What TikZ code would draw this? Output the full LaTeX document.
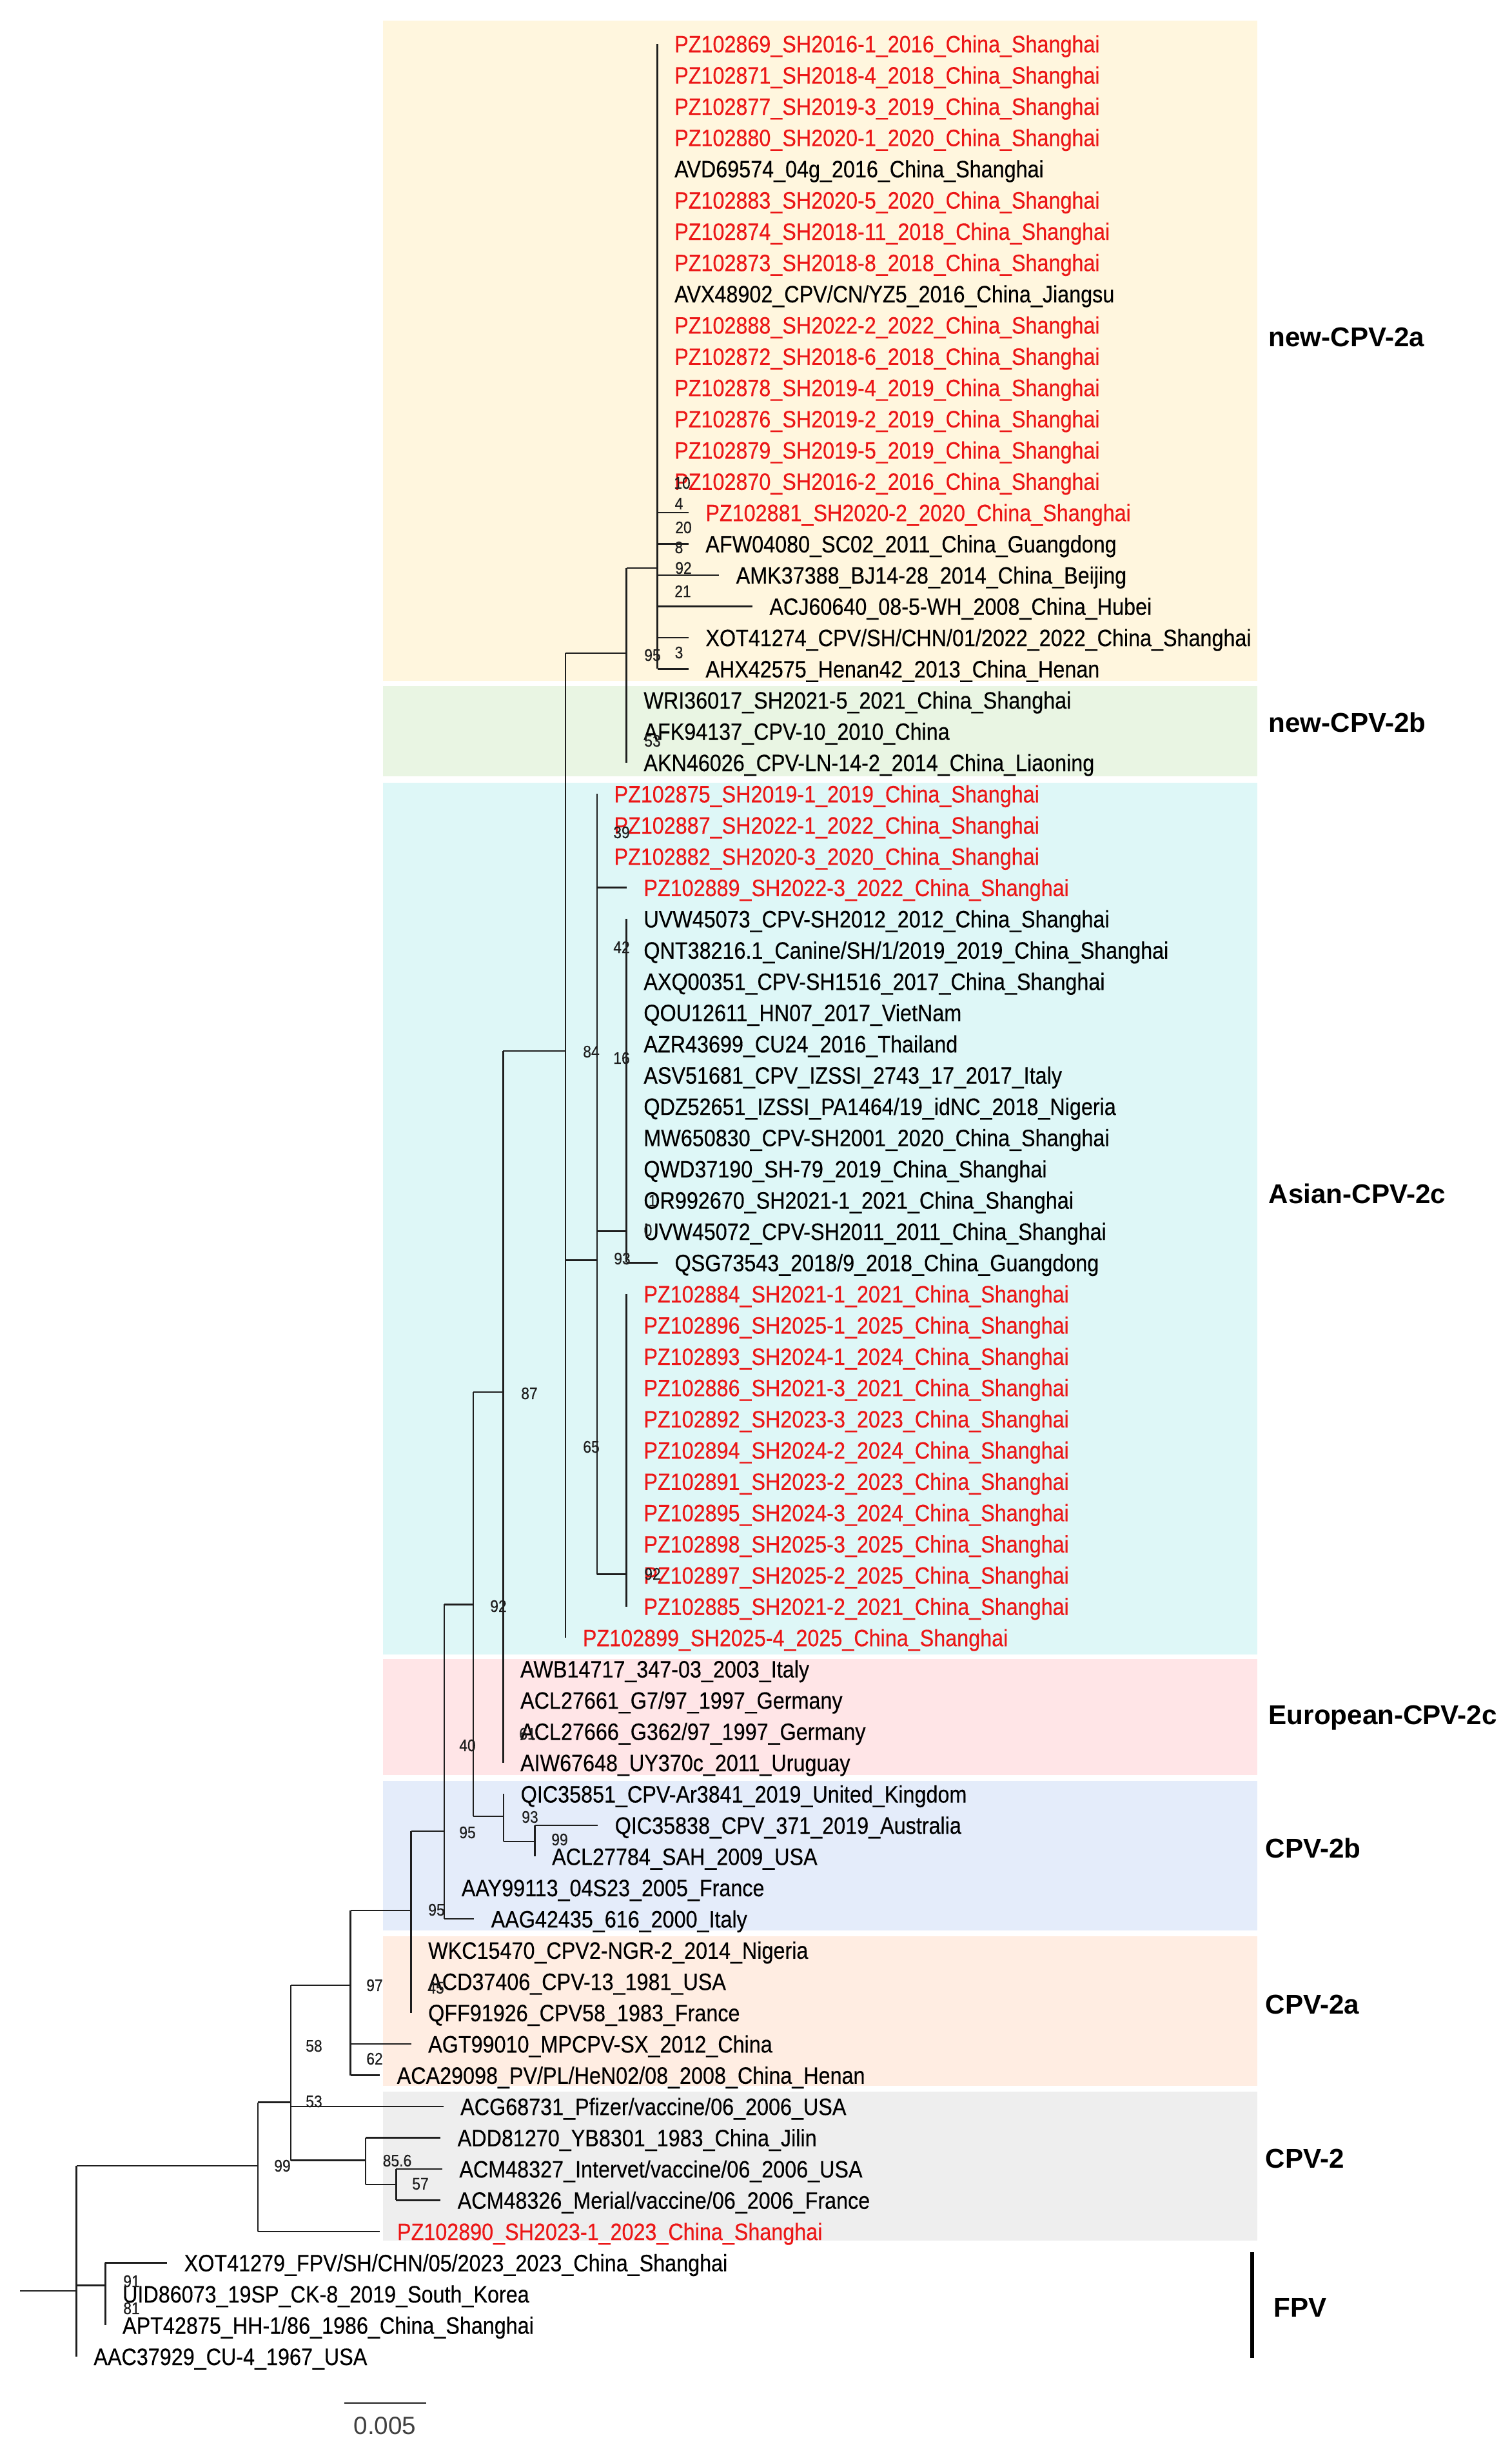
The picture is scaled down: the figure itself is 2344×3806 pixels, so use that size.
\documentclass[tikz,border=0pt]{standalone}
\usepackage{fontspec}
\setmainfont{Liberation Sans}
\newfontfamily\leaffont[FakeStretch=0.88,FakeBold=0.35]{Liberation Sans}
\usetikzlibrary{calc}

\definecolor{tipred}{RGB}{236,22,22}
\definecolor{brn}{RGB}{30,30,30}
\definecolor{bgnewa}{RGB}{255,246,222}
\definecolor{bgnewb}{RGB}{233,245,227}
\definecolor{bgasia}{RGB}{222,247,247}
\definecolor{bgeuro}{RGB}{255,229,231}
\definecolor{bgcpvb}{RGB}{228,236,250}
\definecolor{bgcpva}{RGB}{255,237,226}
\definecolor{bgcpv}{RGB}{238,238,238}

\tikzset{
  branch/.style={draw=brn,line width=0.7pt},
  leaf/.style={anchor=west,inner xsep=2.6mm,inner ysep=0pt,text height=7.5pt,text depth=0pt,
    font=\leaffont\fontsize{10.45}{12}\selectfont},
  boot/.style={inner sep=0pt,text=brn,font=\leaffont\fontsize{7.4}{8}\selectfont},
  clade/.style={anchor=west,inner sep=0pt,text height=8.6pt,text depth=0pt,
    font=\bfseries\fontsize{12}{14}\selectfont},
  declare function={rowy(\n)=68+48.47*(\n-1);}
}

\begin{document}
\begin{tikzpicture}[x=0.1mm,y=-0.1mm]
\useasboundingbox (0,0) rectangle (2344,3806);

\foreach \c/\ya/\yb in {bgnewa/32/1056,bgnewb/1064/1204,bgasia/1214/2566,bgeuro/2573/2753,
  bgcpvb/2762/2994,bgcpva/3003/3235,bgcpv/3244/3475}
  \fill[\c] (594,\ya) rectangle (1950,\yb);

% internal nodes
\coordinate (nA) at (1019.5,881);
\coordinate (nB) at (971.7,1013);
\coordinate (nQ) at (877.2,1630);
\coordinate (nAS) at (925.8,1954.6);
\coordinate (nAS1) at (971.7,1909.4);
\coordinate (nAS2) at (971.7,2441.5);
\coordinate (nP) at (780.4,2159);
\coordinate (nR) at (734.2,2488.4);
\coordinate (nS) at (781,2817);
\coordinate (nT) at (829.5,2855.8);
\coordinate (nU) at (689.2,2840);
\coordinate (nV) at (637.5,2963);
\coordinate (nW) at (543.5,3079);
\coordinate (nX) at (450.9,3260.5);
\coordinate (nY) at (567,3350.6);
\coordinate (nAA) at (614.3,3388);
\coordinate (nZ) at (400,3359.2);
\coordinate (nBB) at (163.4,3544.6);
\coordinate (nRoot) at (118.7,3552.7);
\coordinate (stub) at (31.3,3552.7);

\foreach \k/\p/\x/\c/\t in {
  1/nA/1019.5/tipred/{PZ102869\_SH2016-1\_2016\_China\_Shanghai},
  2/nA/1019.5/tipred/{PZ102871\_SH2018-4\_2018\_China\_Shanghai},
  3/nA/1019.5/tipred/{PZ102877\_SH2019-3\_2019\_China\_Shanghai},
  4/nA/1019.5/tipred/{PZ102880\_SH2020-1\_2020\_China\_Shanghai},
  5/nA/1019.5/black/{AVD69574\_04g\_2016\_China\_Shanghai},
  6/nA/1019.5/tipred/{PZ102883\_SH2020-5\_2020\_China\_Shanghai},
  7/nA/1019.5/tipred/{PZ102874\_SH2018-11\_2018\_China\_Shanghai},
  8/nA/1019.5/tipred/{PZ102873\_SH2018-8\_2018\_China\_Shanghai},
  9/nA/1019.5/black/{AVX48902\_CPV/CN/YZ5\_2016\_China\_Jiangsu},
  10/nA/1019.5/tipred/{PZ102888\_SH2022-2\_2022\_China\_Shanghai},
  11/nA/1019.5/tipred/{PZ102872\_SH2018-6\_2018\_China\_Shanghai},
  12/nA/1019.5/tipred/{PZ102878\_SH2019-4\_2019\_China\_Shanghai},
  13/nA/1019.5/tipred/{PZ102876\_SH2019-2\_2019\_China\_Shanghai},
  14/nA/1019.5/tipred/{PZ102879\_SH2019-5\_2019\_China\_Shanghai},
  15/nA/1019.5/tipred/{PZ102870\_SH2016-2\_2016\_China\_Shanghai},
  16/nA/1067.7/tipred/{PZ102881\_SH2020-2\_2020\_China\_Shanghai},
  17/nA/1067.7/black/{AFW04080\_SC02\_2011\_China\_Guangdong},
  18/nA/1115/black/{AMK37388\_BJ14-28\_2014\_China\_Beijing},
  19/nA/1166.7/black/{ACJ60640\_08-5-WH\_2008\_China\_Hubei},
  20/nA/1067.7/black/{XOT41274\_CPV/SH/CHN/01/2022\_2022\_China\_Shanghai},
  21/nA/1067.7/black/{AHX42575\_Henan42\_2013\_China\_Henan},
  22/nB/971.7/black/{WRI36017\_SH2021-5\_2021\_China\_Shanghai},
  23/nB/971.7/black/{AFK94137\_CPV-10\_2010\_China},
  24/nB/971.7/black/{AKN46026\_CPV-LN-14-2\_2014\_China\_Liaoning},
  25/nAS/925.8/tipred/{PZ102875\_SH2019-1\_2019\_China\_Shanghai},
  26/nAS/925.8/tipred/{PZ102887\_SH2022-1\_2022\_China\_Shanghai},
  27/nAS/925.8/tipred/{PZ102882\_SH2020-3\_2020\_China\_Shanghai},
  28/nAS/971.7/tipred/{PZ102889\_SH2022-3\_2022\_China\_Shanghai},
  29/nAS1/971.7/black/{UVW45073\_CPV-SH2012\_2012\_China\_Shanghai},
  30/nAS1/971.7/black/{QNT38216.1\_Canine/SH/1/2019\_2019\_China\_Shanghai},
  31/nAS1/971.7/black/{AXQ00351\_CPV-SH1516\_2017\_China\_Shanghai},
  32/nAS1/971.7/black/{QOU12611\_HN07\_2017\_VietNam},
  33/nAS1/971.7/black/{AZR43699\_CU24\_2016\_Thailand},
  34/nAS1/971.7/black/{ASV51681\_CPV\_IZSSI\_2743\_17\_2017\_Italy},
  35/nAS1/971.7/black/{QDZ52651\_IZSSI\_PA1464/19\_idNC\_2018\_Nigeria},
  36/nAS1/971.7/black/{MW650830\_CPV-SH2001\_2020\_China\_Shanghai},
  37/nAS1/971.7/black/{QWD37190\_SH-79\_2019\_China\_Shanghai},
  38/nAS1/971.7/black/{OR992670\_SH2021-1\_2021\_China\_Shanghai},
  39/nAS1/971.7/black/{UVW45072\_CPV-SH2011\_2011\_China\_Shanghai},
  40/nAS1/1019.9/black/{QSG73543\_2018/9\_2018\_China\_Guangdong},
  41/nAS2/971.7/tipred/{PZ102884\_SH2021-1\_2021\_China\_Shanghai},
  42/nAS2/971.7/tipred/{PZ102896\_SH2025-1\_2025\_China\_Shanghai},
  43/nAS2/971.7/tipred/{PZ102893\_SH2024-1\_2024\_China\_Shanghai},
  44/nAS2/971.7/tipred/{PZ102886\_SH2021-3\_2021\_China\_Shanghai},
  45/nAS2/971.7/tipred/{PZ102892\_SH2023-3\_2023\_China\_Shanghai},
  46/nAS2/971.7/tipred/{PZ102894\_SH2024-2\_2024\_China\_Shanghai},
  47/nAS2/971.7/tipred/{PZ102891\_SH2023-2\_2023\_China\_Shanghai},
  48/nAS2/971.7/tipred/{PZ102895\_SH2024-3\_2024\_China\_Shanghai},
  49/nAS2/971.7/tipred/{PZ102898\_SH2025-3\_2025\_China\_Shanghai},
  50/nAS2/971.7/tipred/{PZ102897\_SH2025-2\_2025\_China\_Shanghai},
  51/nAS2/971.7/tipred/{PZ102885\_SH2021-2\_2021\_China\_Shanghai},
  52/nQ/877.2/tipred/{PZ102899\_SH2025-4\_2025\_China\_Shanghai},
  53/nP/780.4/black/{AWB14717\_347-03\_2003\_Italy},
  54/nP/780.4/black/{ACL27661\_G7/97\_1997\_Germany},
  55/nP/780.4/black/{ACL27666\_G362/97\_1997\_Germany},
  56/nP/780.4/black/{AIW67648\_UY370c\_2011\_Uruguay},
  57/nS/781/black/{QIC35851\_CPV-Ar3841\_2019\_United\_Kingdom},
  58/nT/927/black/{QIC35838\_CPV\_371\_2019\_Australia},
  59/nT/829.5/black/{ACL27784\_SAH\_2009\_USA},
  60/nU/689.2/black/{AAY99113\_04S23\_2005\_France},
  61/nU/735/black/{AAG42435\_616\_2000\_Italy},
  62/nV/637.5/black/{WKC15470\_CPV2-NGR-2\_2014\_Nigeria},
  63/nV/637.5/black/{ACD37406\_CPV-13\_1981\_USA},
  64/nV/637.5/black/{QFF91926\_CPV58\_1983\_France},
  65/nW/637.5/black/{AGT99010\_MPCPV-SX\_2012\_China},
  66/nW/589/black/{ACA29098\_PV/PL/HeN02/08\_2008\_China\_Henan},
  67/nX/687.5/black/{ACG68731\_Pfizer/vaccine/06\_2006\_USA},
  68/nY/683/black/{ADD81270\_YB8301\_1983\_China\_Jilin},
  69/nAA/685.7/black/{ACM48327\_Intervet/vaccine/06\_2006\_USA},
  70/nAA/683/black/{ACM48326\_Merial/vaccine/06\_2006\_France},
  71/nZ/589.3/tipred/{PZ102890\_SH2023-1\_2023\_China\_Shanghai},
  72/nBB/259/black/{XOT41279\_FPV/SH/CHN/05/2023\_2023\_China\_Shanghai},
  73/nBB/163.4/black/{UID86073\_19SP\_CK-8\_2019\_South\_Korea},
  74/nBB/163.4/black/{APT42875\_HH-1/86\_1986\_China\_Shanghai},
  75/nRoot/118.7/black/{AAC37929\_CU-4\_1967\_USA}}{
  \node[leaf,text=\c] (t\k) at (\x,{rowy(\k)}) {\t};
  \draw[branch] (\p |- t\k.west) -- (t\k.west);
}

\foreach \m/\ta/\tb/\pa in {nA/t1/t21/nB,nB/nA/t24/nQ,nQ/nB/t52/nP,nAS/t25/nAS2/nQ,
  nAS1/t29/t40/nAS,nAS2/t41/t51/nAS,nP/nQ/t56/nR,nR/nP/nS/nU,nS/t57/nT/nR,nT/t58/t59/nS,
  nU/nR/t61/nV,nV/nU/t64/nW,nW/nV/t66/nX,nX/nW/nY/nZ,nY/t68/nAA/nX,nAA/t69/t70/nY,
  nZ/nX/t71/nRoot,nBB/t72/t74/nRoot,nRoot/nZ/t75/stub}{
  \draw[branch] (\m |- \ta) -- (\m |- \tb);
  \draw[branch] (\pa |- \m) -- (\m);
}

\foreach \v/\x/\y [count=\i] in {10/1058/749,4/1053/781,20/1060/818,8/1053/849,92/1060/881,
  21/1059/917,95/1012/1016,3/1053/1012,53/1012/1149,39/964/1291,42/964/1469,84/917/1631,
  16/964/1641,1/1012/1862,0/1005/1908,93/965/1952,87/821/2161,65/917/2244,92/1012/2441,
  92/773/2491,61/818/2689,40/725/2707,93/822/2818,95/725/2842,99/868/2853,95/677/2962,
  45/676/3083,97/581/3079,58/487/3173,62/581/3193,53/487/3259,99/438/3359,85.6/616/3351,
  57/652/3387,91/204/3538,81/204/3580}
  \node[boot] (bs\i) at (\x,\y) {\v};

\node[clade] (cnewa) at (1967,522) {new-CPV-2a};
\node[clade] (cnewb) at (1967,1120) {new-CPV-2b};
\node[clade] (casia) at (1967,1851) {Asian-CPV-2c};
\node[clade] (ceuro) at (1967,2659) {European-CPV-2c};
\node[clade] (ccpvb) at (1962,2866) {CPV-2b};
\node[clade] (ccpva) at (1962,3108) {CPV-2a};
\node[clade] (ccpv) at (1962,3347) {CPV-2};
\node[clade] (cfpv) at (1975,3578) {FPV};
\coordinate (fa) at (1942,3493);
\coordinate (fb) at (1942,3657);
\draw[line width=0.6mm] (fa) -- (fb);

\coordinate (sa) at (534,3727);
\coordinate (sb) at (661,3727);
\draw[branch] (sa) -- (sb);
\node[inner sep=0pt,text=brn!85,font=\fontsize{11}{13}\selectfont] (slab) at (597,3762) {0.005};
\end{tikzpicture}
\end{document}
